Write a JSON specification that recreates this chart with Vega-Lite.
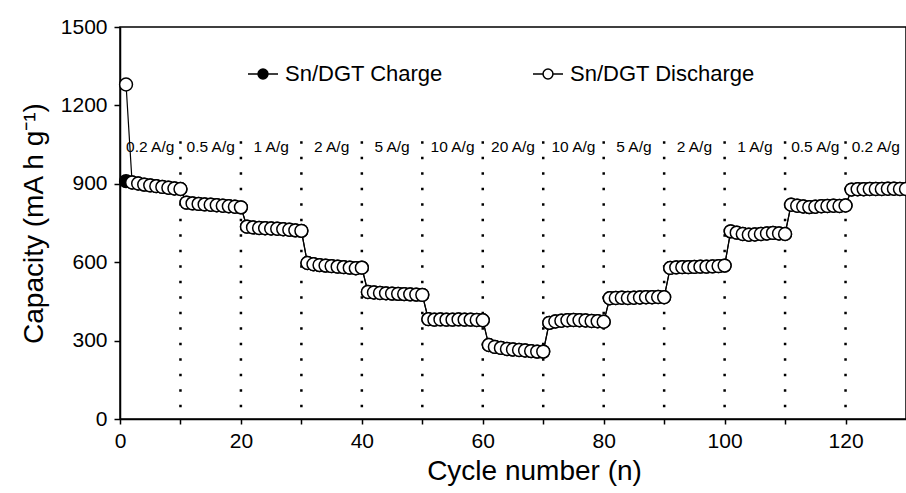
{
  "$schema": "https://vega.github.io/schema/vega-lite/v6.json",
  "width": 786,
  "height": 392,
  "autosize": {"type": "none"},
  "padding": {"left": 120, "top": 27, "right": 0, "bottom": 74},
  "background": "white",
  "config": {
    "font": "Liberation Sans",
    "view": {"stroke": "black", "strokeWidth": 1.5},
    "axis": {
      "grid": false,
      "domainColor": "black",
      "domainWidth": 1.5,
      "tickColor": "black",
      "tickWidth": 1.5,
      "labelColor": "black",
      "titleColor": "black",
      "labelFont": "Liberation Sans",
      "titleFont": "Liberation Sans",
      "titleFontWeight": "normal",
      "labelFontSize": 21,
      "titleFontSize": 28,
      "labelOverlap": false,
      "labelBound": false,
      "labelFlush": false
    }
  },
  "datasets": {
    "cap": [
      {"cycle":1,"series":"Sn/DGT Charge","capacity":910},
      {"cycle":2,"series":"Sn/DGT Charge","capacity":905},{"cycle":3,"series":"Sn/DGT Charge","capacity":901},{"cycle":4,"series":"Sn/DGT Charge","capacity":897},{"cycle":5,"series":"Sn/DGT Charge","capacity":894},{"cycle":6,"series":"Sn/DGT Charge","capacity":891},{"cycle":7,"series":"Sn/DGT Charge","capacity":888},{"cycle":8,"series":"Sn/DGT Charge","capacity":885},{"cycle":9,"series":"Sn/DGT Charge","capacity":882},{"cycle":10,"series":"Sn/DGT Charge","capacity":880},
      {"cycle":11,"series":"Sn/DGT Charge","capacity":828},{"cycle":12,"series":"Sn/DGT Charge","capacity":825},{"cycle":13,"series":"Sn/DGT Charge","capacity":823},{"cycle":14,"series":"Sn/DGT Charge","capacity":821},{"cycle":15,"series":"Sn/DGT Charge","capacity":820},{"cycle":16,"series":"Sn/DGT Charge","capacity":818},{"cycle":17,"series":"Sn/DGT Charge","capacity":816},{"cycle":18,"series":"Sn/DGT Charge","capacity":814},{"cycle":19,"series":"Sn/DGT Charge","capacity":812},{"cycle":20,"series":"Sn/DGT Charge","capacity":810},
      {"cycle":21,"series":"Sn/DGT Charge","capacity":736},{"cycle":22,"series":"Sn/DGT Charge","capacity":733},{"cycle":23,"series":"Sn/DGT Charge","capacity":731},{"cycle":24,"series":"Sn/DGT Charge","capacity":730},{"cycle":25,"series":"Sn/DGT Charge","capacity":729},{"cycle":26,"series":"Sn/DGT Charge","capacity":728},{"cycle":27,"series":"Sn/DGT Charge","capacity":726},{"cycle":28,"series":"Sn/DGT Charge","capacity":724},{"cycle":29,"series":"Sn/DGT Charge","capacity":722},{"cycle":30,"series":"Sn/DGT Charge","capacity":720},
      {"cycle":31,"series":"Sn/DGT Charge","capacity":597},{"cycle":32,"series":"Sn/DGT Charge","capacity":592},{"cycle":33,"series":"Sn/DGT Charge","capacity":589},{"cycle":34,"series":"Sn/DGT Charge","capacity":587},{"cycle":35,"series":"Sn/DGT Charge","capacity":585},{"cycle":36,"series":"Sn/DGT Charge","capacity":583},{"cycle":37,"series":"Sn/DGT Charge","capacity":581},{"cycle":38,"series":"Sn/DGT Charge","capacity":579},{"cycle":39,"series":"Sn/DGT Charge","capacity":577},{"cycle":40,"series":"Sn/DGT Charge","capacity":579},
      {"cycle":41,"series":"Sn/DGT Charge","capacity":486},{"cycle":42,"series":"Sn/DGT Charge","capacity":484},{"cycle":43,"series":"Sn/DGT Charge","capacity":482},{"cycle":44,"series":"Sn/DGT Charge","capacity":481},{"cycle":45,"series":"Sn/DGT Charge","capacity":480},{"cycle":46,"series":"Sn/DGT Charge","capacity":479},{"cycle":47,"series":"Sn/DGT Charge","capacity":478},{"cycle":48,"series":"Sn/DGT Charge","capacity":477},{"cycle":49,"series":"Sn/DGT Charge","capacity":476},{"cycle":50,"series":"Sn/DGT Charge","capacity":475},
      {"cycle":51,"series":"Sn/DGT Charge","capacity":382},{"cycle":52,"series":"Sn/DGT Charge","capacity":380},{"cycle":53,"series":"Sn/DGT Charge","capacity":381},{"cycle":54,"series":"Sn/DGT Charge","capacity":380},{"cycle":55,"series":"Sn/DGT Charge","capacity":380},{"cycle":56,"series":"Sn/DGT Charge","capacity":381},{"cycle":57,"series":"Sn/DGT Charge","capacity":380},{"cycle":58,"series":"Sn/DGT Charge","capacity":380},{"cycle":59,"series":"Sn/DGT Charge","capacity":379},{"cycle":60,"series":"Sn/DGT Charge","capacity":378},
      {"cycle":61,"series":"Sn/DGT Charge","capacity":283},{"cycle":62,"series":"Sn/DGT Charge","capacity":276},{"cycle":63,"series":"Sn/DGT Charge","capacity":272},{"cycle":64,"series":"Sn/DGT Charge","capacity":268},{"cycle":65,"series":"Sn/DGT Charge","capacity":266},{"cycle":66,"series":"Sn/DGT Charge","capacity":264},{"cycle":67,"series":"Sn/DGT Charge","capacity":262},{"cycle":68,"series":"Sn/DGT Charge","capacity":260},{"cycle":69,"series":"Sn/DGT Charge","capacity":258},{"cycle":70,"series":"Sn/DGT Charge","capacity":258},
      {"cycle":71,"series":"Sn/DGT Charge","capacity":368},{"cycle":72,"series":"Sn/DGT Charge","capacity":373},{"cycle":73,"series":"Sn/DGT Charge","capacity":376},{"cycle":74,"series":"Sn/DGT Charge","capacity":378},{"cycle":75,"series":"Sn/DGT Charge","capacity":379},{"cycle":76,"series":"Sn/DGT Charge","capacity":378},{"cycle":77,"series":"Sn/DGT Charge","capacity":377},{"cycle":78,"series":"Sn/DGT Charge","capacity":375},{"cycle":79,"series":"Sn/DGT Charge","capacity":374},{"cycle":80,"series":"Sn/DGT Charge","capacity":372},
      {"cycle":81,"series":"Sn/DGT Charge","capacity":462},{"cycle":82,"series":"Sn/DGT Charge","capacity":463},{"cycle":83,"series":"Sn/DGT Charge","capacity":464},{"cycle":84,"series":"Sn/DGT Charge","capacity":463},{"cycle":85,"series":"Sn/DGT Charge","capacity":464},{"cycle":86,"series":"Sn/DGT Charge","capacity":465},{"cycle":87,"series":"Sn/DGT Charge","capacity":466},{"cycle":88,"series":"Sn/DGT Charge","capacity":466},{"cycle":89,"series":"Sn/DGT Charge","capacity":467},{"cycle":90,"series":"Sn/DGT Charge","capacity":466},
      {"cycle":91,"series":"Sn/DGT Charge","capacity":578},{"cycle":92,"series":"Sn/DGT Charge","capacity":580},{"cycle":93,"series":"Sn/DGT Charge","capacity":581},{"cycle":94,"series":"Sn/DGT Charge","capacity":581},{"cycle":95,"series":"Sn/DGT Charge","capacity":582},{"cycle":96,"series":"Sn/DGT Charge","capacity":583},{"cycle":97,"series":"Sn/DGT Charge","capacity":583},{"cycle":98,"series":"Sn/DGT Charge","capacity":584},{"cycle":99,"series":"Sn/DGT Charge","capacity":585},{"cycle":100,"series":"Sn/DGT Charge","capacity":587},
      {"cycle":101,"series":"Sn/DGT Charge","capacity":718},{"cycle":102,"series":"Sn/DGT Charge","capacity":713},{"cycle":103,"series":"Sn/DGT Charge","capacity":708},{"cycle":104,"series":"Sn/DGT Charge","capacity":705},{"cycle":105,"series":"Sn/DGT Charge","capacity":706},{"cycle":106,"series":"Sn/DGT Charge","capacity":708},{"cycle":107,"series":"Sn/DGT Charge","capacity":710},{"cycle":108,"series":"Sn/DGT Charge","capacity":712},{"cycle":109,"series":"Sn/DGT Charge","capacity":710},{"cycle":110,"series":"Sn/DGT Charge","capacity":708},
      {"cycle":111,"series":"Sn/DGT Charge","capacity":820},{"cycle":112,"series":"Sn/DGT Charge","capacity":816},{"cycle":113,"series":"Sn/DGT Charge","capacity":813},{"cycle":114,"series":"Sn/DGT Charge","capacity":811},{"cycle":115,"series":"Sn/DGT Charge","capacity":812},{"cycle":116,"series":"Sn/DGT Charge","capacity":814},{"cycle":117,"series":"Sn/DGT Charge","capacity":815},{"cycle":118,"series":"Sn/DGT Charge","capacity":816},{"cycle":119,"series":"Sn/DGT Charge","capacity":815},{"cycle":120,"series":"Sn/DGT Charge","capacity":817},
      {"cycle":121,"series":"Sn/DGT Charge","capacity":878},{"cycle":122,"series":"Sn/DGT Charge","capacity":879},{"cycle":123,"series":"Sn/DGT Charge","capacity":879},{"cycle":124,"series":"Sn/DGT Charge","capacity":880},{"cycle":125,"series":"Sn/DGT Charge","capacity":880},{"cycle":126,"series":"Sn/DGT Charge","capacity":880},{"cycle":127,"series":"Sn/DGT Charge","capacity":881},{"cycle":128,"series":"Sn/DGT Charge","capacity":881},{"cycle":129,"series":"Sn/DGT Charge","capacity":880},{"cycle":130,"series":"Sn/DGT Charge","capacity":880},

      {"cycle":1,"series":"Sn/DGT Discharge","capacity":1280},
      {"cycle":2,"series":"Sn/DGT Discharge","capacity":905},{"cycle":3,"series":"Sn/DGT Discharge","capacity":901},{"cycle":4,"series":"Sn/DGT Discharge","capacity":897},{"cycle":5,"series":"Sn/DGT Discharge","capacity":894},{"cycle":6,"series":"Sn/DGT Discharge","capacity":891},{"cycle":7,"series":"Sn/DGT Discharge","capacity":888},{"cycle":8,"series":"Sn/DGT Discharge","capacity":885},{"cycle":9,"series":"Sn/DGT Discharge","capacity":882},{"cycle":10,"series":"Sn/DGT Discharge","capacity":880},
      {"cycle":11,"series":"Sn/DGT Discharge","capacity":828},{"cycle":12,"series":"Sn/DGT Discharge","capacity":825},{"cycle":13,"series":"Sn/DGT Discharge","capacity":823},{"cycle":14,"series":"Sn/DGT Discharge","capacity":821},{"cycle":15,"series":"Sn/DGT Discharge","capacity":820},{"cycle":16,"series":"Sn/DGT Discharge","capacity":818},{"cycle":17,"series":"Sn/DGT Discharge","capacity":816},{"cycle":18,"series":"Sn/DGT Discharge","capacity":814},{"cycle":19,"series":"Sn/DGT Discharge","capacity":812},{"cycle":20,"series":"Sn/DGT Discharge","capacity":810},
      {"cycle":21,"series":"Sn/DGT Discharge","capacity":736},{"cycle":22,"series":"Sn/DGT Discharge","capacity":733},{"cycle":23,"series":"Sn/DGT Discharge","capacity":731},{"cycle":24,"series":"Sn/DGT Discharge","capacity":730},{"cycle":25,"series":"Sn/DGT Discharge","capacity":729},{"cycle":26,"series":"Sn/DGT Discharge","capacity":728},{"cycle":27,"series":"Sn/DGT Discharge","capacity":726},{"cycle":28,"series":"Sn/DGT Discharge","capacity":724},{"cycle":29,"series":"Sn/DGT Discharge","capacity":722},{"cycle":30,"series":"Sn/DGT Discharge","capacity":720},
      {"cycle":31,"series":"Sn/DGT Discharge","capacity":597},{"cycle":32,"series":"Sn/DGT Discharge","capacity":592},{"cycle":33,"series":"Sn/DGT Discharge","capacity":589},{"cycle":34,"series":"Sn/DGT Discharge","capacity":587},{"cycle":35,"series":"Sn/DGT Discharge","capacity":585},{"cycle":36,"series":"Sn/DGT Discharge","capacity":583},{"cycle":37,"series":"Sn/DGT Discharge","capacity":581},{"cycle":38,"series":"Sn/DGT Discharge","capacity":579},{"cycle":39,"series":"Sn/DGT Discharge","capacity":577},{"cycle":40,"series":"Sn/DGT Discharge","capacity":579},
      {"cycle":41,"series":"Sn/DGT Discharge","capacity":486},{"cycle":42,"series":"Sn/DGT Discharge","capacity":484},{"cycle":43,"series":"Sn/DGT Discharge","capacity":482},{"cycle":44,"series":"Sn/DGT Discharge","capacity":481},{"cycle":45,"series":"Sn/DGT Discharge","capacity":480},{"cycle":46,"series":"Sn/DGT Discharge","capacity":479},{"cycle":47,"series":"Sn/DGT Discharge","capacity":478},{"cycle":48,"series":"Sn/DGT Discharge","capacity":477},{"cycle":49,"series":"Sn/DGT Discharge","capacity":476},{"cycle":50,"series":"Sn/DGT Discharge","capacity":475},
      {"cycle":51,"series":"Sn/DGT Discharge","capacity":382},{"cycle":52,"series":"Sn/DGT Discharge","capacity":380},{"cycle":53,"series":"Sn/DGT Discharge","capacity":381},{"cycle":54,"series":"Sn/DGT Discharge","capacity":380},{"cycle":55,"series":"Sn/DGT Discharge","capacity":380},{"cycle":56,"series":"Sn/DGT Discharge","capacity":381},{"cycle":57,"series":"Sn/DGT Discharge","capacity":380},{"cycle":58,"series":"Sn/DGT Discharge","capacity":380},{"cycle":59,"series":"Sn/DGT Discharge","capacity":379},{"cycle":60,"series":"Sn/DGT Discharge","capacity":378},
      {"cycle":61,"series":"Sn/DGT Discharge","capacity":283},{"cycle":62,"series":"Sn/DGT Discharge","capacity":276},{"cycle":63,"series":"Sn/DGT Discharge","capacity":272},{"cycle":64,"series":"Sn/DGT Discharge","capacity":268},{"cycle":65,"series":"Sn/DGT Discharge","capacity":266},{"cycle":66,"series":"Sn/DGT Discharge","capacity":264},{"cycle":67,"series":"Sn/DGT Discharge","capacity":262},{"cycle":68,"series":"Sn/DGT Discharge","capacity":260},{"cycle":69,"series":"Sn/DGT Discharge","capacity":258},{"cycle":70,"series":"Sn/DGT Discharge","capacity":258},
      {"cycle":71,"series":"Sn/DGT Discharge","capacity":368},{"cycle":72,"series":"Sn/DGT Discharge","capacity":373},{"cycle":73,"series":"Sn/DGT Discharge","capacity":376},{"cycle":74,"series":"Sn/DGT Discharge","capacity":378},{"cycle":75,"series":"Sn/DGT Discharge","capacity":379},{"cycle":76,"series":"Sn/DGT Discharge","capacity":378},{"cycle":77,"series":"Sn/DGT Discharge","capacity":377},{"cycle":78,"series":"Sn/DGT Discharge","capacity":375},{"cycle":79,"series":"Sn/DGT Discharge","capacity":374},{"cycle":80,"series":"Sn/DGT Discharge","capacity":372},
      {"cycle":81,"series":"Sn/DGT Discharge","capacity":462},{"cycle":82,"series":"Sn/DGT Discharge","capacity":463},{"cycle":83,"series":"Sn/DGT Discharge","capacity":464},{"cycle":84,"series":"Sn/DGT Discharge","capacity":463},{"cycle":85,"series":"Sn/DGT Discharge","capacity":464},{"cycle":86,"series":"Sn/DGT Discharge","capacity":465},{"cycle":87,"series":"Sn/DGT Discharge","capacity":466},{"cycle":88,"series":"Sn/DGT Discharge","capacity":466},{"cycle":89,"series":"Sn/DGT Discharge","capacity":467},{"cycle":90,"series":"Sn/DGT Discharge","capacity":466},
      {"cycle":91,"series":"Sn/DGT Discharge","capacity":578},{"cycle":92,"series":"Sn/DGT Discharge","capacity":580},{"cycle":93,"series":"Sn/DGT Discharge","capacity":581},{"cycle":94,"series":"Sn/DGT Discharge","capacity":581},{"cycle":95,"series":"Sn/DGT Discharge","capacity":582},{"cycle":96,"series":"Sn/DGT Discharge","capacity":583},{"cycle":97,"series":"Sn/DGT Discharge","capacity":583},{"cycle":98,"series":"Sn/DGT Discharge","capacity":584},{"cycle":99,"series":"Sn/DGT Discharge","capacity":585},{"cycle":100,"series":"Sn/DGT Discharge","capacity":587},
      {"cycle":101,"series":"Sn/DGT Discharge","capacity":718},{"cycle":102,"series":"Sn/DGT Discharge","capacity":713},{"cycle":103,"series":"Sn/DGT Discharge","capacity":708},{"cycle":104,"series":"Sn/DGT Discharge","capacity":705},{"cycle":105,"series":"Sn/DGT Discharge","capacity":706},{"cycle":106,"series":"Sn/DGT Discharge","capacity":708},{"cycle":107,"series":"Sn/DGT Discharge","capacity":710},{"cycle":108,"series":"Sn/DGT Discharge","capacity":712},{"cycle":109,"series":"Sn/DGT Discharge","capacity":710},{"cycle":110,"series":"Sn/DGT Discharge","capacity":708},
      {"cycle":111,"series":"Sn/DGT Discharge","capacity":820},{"cycle":112,"series":"Sn/DGT Discharge","capacity":816},{"cycle":113,"series":"Sn/DGT Discharge","capacity":813},{"cycle":114,"series":"Sn/DGT Discharge","capacity":811},{"cycle":115,"series":"Sn/DGT Discharge","capacity":812},{"cycle":116,"series":"Sn/DGT Discharge","capacity":814},{"cycle":117,"series":"Sn/DGT Discharge","capacity":815},{"cycle":118,"series":"Sn/DGT Discharge","capacity":816},{"cycle":119,"series":"Sn/DGT Discharge","capacity":815},{"cycle":120,"series":"Sn/DGT Discharge","capacity":817},
      {"cycle":121,"series":"Sn/DGT Discharge","capacity":878},{"cycle":122,"series":"Sn/DGT Discharge","capacity":879},{"cycle":123,"series":"Sn/DGT Discharge","capacity":879},{"cycle":124,"series":"Sn/DGT Discharge","capacity":880},{"cycle":125,"series":"Sn/DGT Discharge","capacity":880},{"cycle":126,"series":"Sn/DGT Discharge","capacity":880},{"cycle":127,"series":"Sn/DGT Discharge","capacity":881},{"cycle":128,"series":"Sn/DGT Discharge","capacity":881},{"cycle":129,"series":"Sn/DGT Discharge","capacity":880},{"cycle":130,"series":"Sn/DGT Discharge","capacity":880}
    ],
    "rates": [
      {"cycle":5,"label":"0.2 A/g"},{"cycle":15,"label":"0.5 A/g"},{"cycle":25,"label":"1 A/g"},{"cycle":35,"label":"2 A/g"},{"cycle":45,"label":"5 A/g"},{"cycle":55,"label":"10 A/g"},{"cycle":65,"label":"20 A/g"},{"cycle":75,"label":"10 A/g"},{"cycle":85,"label":"5 A/g"},{"cycle":95,"label":"2 A/g"},{"cycle":105,"label":"1 A/g"},{"cycle":115,"label":"0.5 A/g"},{"cycle":125,"label":"0.2 A/g"}
    ],
    "dividers": [
      {"cycle":10},{"cycle":20},{"cycle":30},{"cycle":40},{"cycle":50},{"cycle":60},{"cycle":70},{"cycle":80},{"cycle":90},{"cycle":100},{"cycle":110},{"cycle":120}
    ]
  },
  "layer": [
    {
      "data": {"name": "dividers"},
      "mark": {"type": "rule", "color": "black", "strokeWidth": 2.5, "strokeDash": [2.5, 13], "strokeDashOffset": 3.7},
      "encoding": {
        "x": {
          "field": "cycle", "type": "quantitative",
          "scale": {"domain": [0, 130], "nice": false, "zero": false},
          "axis": {
            "title": "Cycle number (n)",
            "values": [0, 10, 20, 30, 40, 50, 60, 70, 80, 90, 100, 110, 120],
            "labelExpr": "datum.value % 20 === 0 ? datum.label : ''",
            "tickSize": 5,
            "labelPadding": 6,
            "titlePadding": 6,
            "titleX": 414
          }
        },
        "y": {
          "datum": 0, "type": "quantitative",
          "scale": {"domain": [0, 1500], "nice": false},
          "axis": {
            "title": "Capacity (mA h g⁻¹)",
            "values": [0, 150, 300, 450, 600, 750, 900, 1050, 1200, 1350, 1500],
            "format": "d",
            "labelExpr": "datum.value % 300 === 0 ? datum.label : ''",
            "tickSize": 6,
            "labelPadding": 7,
            "titlePadding": 12
          }
        },
        "y2": {"datum": 1100}
      }
    },
    {
      "data": {"name": "rates"},
      "mark": {"type": "text", "fontSize": 15.5, "font": "Liberation Sans", "color": "black", "align": "center", "baseline": "alphabetic"},
      "encoding": {
        "x": {"field": "cycle", "type": "quantitative"},
        "y": {"datum": 1020, "type": "quantitative"},
        "text": {"field": "label"}
      }
    },
    {
      "data": {"name": "cap"},
      "mark": {"type": "line", "color": "black", "strokeWidth": 1.2},
      "encoding": {
        "x": {"field": "cycle", "type": "quantitative"},
        "y": {"field": "capacity", "type": "quantitative"},
        "detail": {"field": "series"}
      }
    },
    {
      "data": {"name": "cap"},
      "mark": {"type": "point", "shape": "circle", "size": 165, "stroke": "black", "strokeWidth": 1.5, "opacity": 1, "fillOpacity": 1},
      "encoding": {
        "x": {"field": "cycle", "type": "quantitative"},
        "y": {"field": "capacity", "type": "quantitative"},
        "fill": {
          "field": "series", "type": "nominal",
          "scale": {"domain": ["Sn/DGT Charge", "Sn/DGT Discharge"], "range": ["black", "white"]},
          "legend": {
            "title": null,
            "orient": "none",
            "legendX": 127,
            "legendY": 31,
            "direction": "horizontal",
            "padding": 0,
            "symbolType": "M-1,0L-0.33,0M0.33,0L1,0M-0.33,0A0.33,0.33 0 1,0 0.33,0A0.33,0.33 0 1,0 -0.33,0Z",
            "symbolSize": 900,
            "symbolStrokeColor": "black",
            "symbolStrokeWidth": 1.5,
            "symbolOpacity": 1,
            "labelFont": "Liberation Sans",
            "labelFontSize": 22,
            "labelColor": "black",
            "labelOffset": 6,
            "labelLimit": 400,
            "columnPadding": 87
          }
        }
      }
    }
  ]
}
